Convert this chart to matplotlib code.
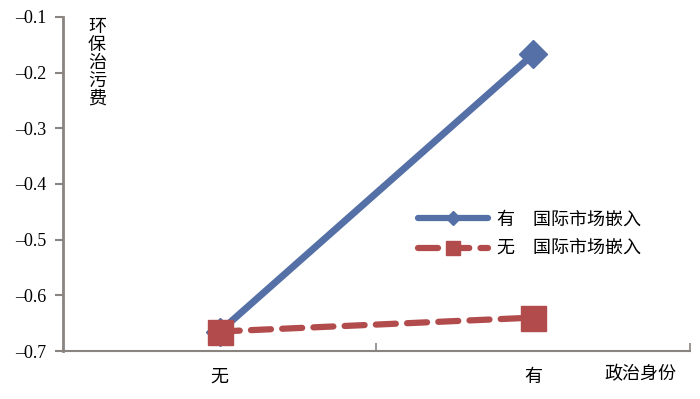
from matplotlib import pyplot as plt
from matplotlib.lines import Line2D

plt.rcParams['font.family'] = ['Liberation Serif', 'Noto Sans CJK SC']
plt.rcParams['axes.unicode_minus'] = True

categories = ['无', '有']
with_market = [-0.665, -0.167]
without_market = [-0.665, -0.640]
series_names = ['有　国际市场嵌入', '无　国际市场嵌入']
y_ticks = [-0.7, -0.6, -0.5, -0.4, -0.3, -0.2, -0.1]

blue = '#5470a6'
red = '#b24c4c'
axis_col = '#8a8480'

fig = plt.figure(figsize=(7, 3.99), dpi=100)
ax = fig.add_axes([0.09, 0.1203, 0.8957, 0.8371])

xs = [0.5, 1.5]
ax.plot(xs, with_market, color=blue, lw=5, marker='D', markersize=14,
        solid_capstyle='round', zorder=3)
ax.plot(xs, without_market, color=red, lw=4.5, ls=(0, (3.2, 1.8)),
        dash_capstyle='round', marker='s', markersize=18, zorder=4)

ax.set_xlim(0, 2)
ax.set_ylim(-0.7, -0.1)
ax.set_yticks(y_ticks)
ax.set_yticklabels(['\u2013' + f'{abs(v):.1f}' for v in y_ticks], fontsize=13)
ax.tick_params(axis='y', direction='out', length=6, width=1.5, color=axis_col, pad=6)

ax.set_xticks([1, 2])
ax.set_xticklabels(['', ''])
ax.tick_params(axis='x', which='major', direction='in', length=6, width=1.2, color=axis_col)
ax.set_xticks(xs, minor=True)
ax.set_xticklabels(categories, minor=True, fontsize=13, family='Noto Sans CJK SC')
ax.tick_params(axis='x', which='minor', length=0, pad=12)

for s in ['top', 'right']:
    ax.spines[s].set_visible(False)
ax.spines['left'].set_color(axis_col)
ax.spines['left'].set_linewidth(2)
ax.spines['bottom'].set_color(axis_col)
ax.spines['bottom'].set_linewidth(1.5)

fig.text(97 / 700, 1 - 18 / 399, '环\n保\n治\n污\n费', fontsize=13, va='top', ha='center',
         linespacing=1.0, family='Noto Sans CJK SC')
fig.text(640 / 700, 1 - 374 / 399, '政治身份', fontsize=13, va='center', ha='center',
         family='Noto Sans CJK SC')

handles = [
    Line2D([], [], color=blue, lw=4.5, marker='D', markersize=7, solid_capstyle='round'),
    Line2D([], [], color=red, lw=4.5, ls=(0, (3.2, 1.8)), dash_capstyle='round',
           marker='s', markersize=10),
]
ax.legend(handles, series_names, loc='upper left', bbox_to_anchor=(0.54, 0.47),
          frameon=False, handlelength=3.9, handletextpad=0.5, labelspacing=0.65,
          prop={'family': 'Noto Sans CJK SC', 'size': 13})

plt.savefig('out.png')
